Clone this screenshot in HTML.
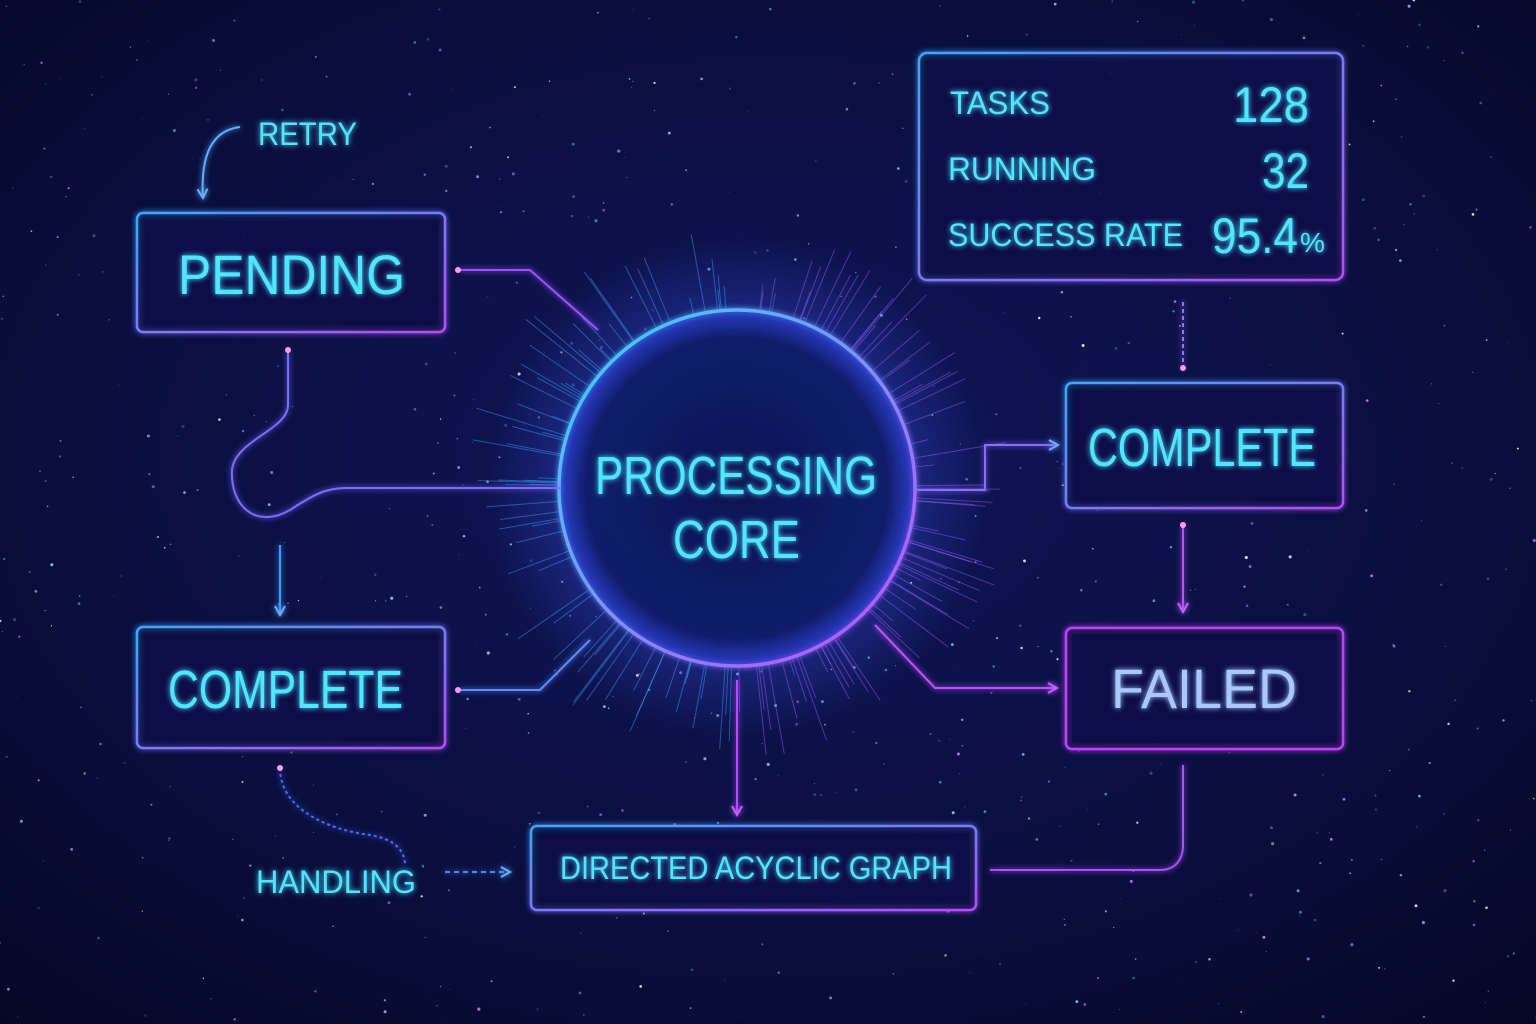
<!DOCTYPE html>
<html><head><meta charset="utf-8">
<style>
html,body{margin:0;padding:0;background:#070b2e;}
svg{display:block}
text{font-family:"Liberation Sans","DejaVu Sans",sans-serif;}
</style></head>
<body>
<svg id="s" width="1536" height="1024" viewBox="0 0 1536 1024">
<defs>
<radialGradient id="bg" cx="50%" cy="45%" r="75%">
<stop offset="0" stop-color="#10165a"/><stop offset="0.6" stop-color="#0a0e3e"/><stop offset="1" stop-color="#050726"/>
</radialGradient>
<radialGradient id="core" cx="50%" cy="50%" r="50%">
<stop offset="0" stop-color="#0f1652" stop-opacity="0.95"/><stop offset="0.85" stop-color="#121c6a" stop-opacity="0.9"/><stop offset="1" stop-color="#2a40d0" stop-opacity="0.7"/>
</radialGradient>
<radialGradient id="halo" cx="50%" cy="50%" r="50%">
<stop offset="0.6" stop-color="#3a5cff" stop-opacity="0.35"/><stop offset="1" stop-color="#3a5cff" stop-opacity="0"/>
</radialGradient>
<linearGradient id="ring" x1="0" y1="0" x2="1" y2="1">
<stop offset="0" stop-color="#38d6ff"/><stop offset="1" stop-color="#c04dff"/>
</linearGradient>
<linearGradient id="boxg" x1="0" y1="0" x2="1" y2="1">
<stop offset="0" stop-color="#3aa8ff"/><stop offset="1" stop-color="#b44dff"/>
</linearGradient>
<filter id="glow" x="-30%" y="-30%" width="160%" height="160%"><feGaussianBlur stdDeviation="3" result="b"/><feMerge><feMergeNode in="b"/><feMergeNode in="SourceGraphic"/></feMerge></filter>
<marker id="ar" viewBox="0 0 12 12" refX="10" refY="6" markerWidth="12" markerHeight="12" orient="auto" markerUnits="userSpaceOnUse"><path d="M1,1 L10,6 L1,11" fill="none" stroke="#6aaeff" stroke-width="2"/></marker>
<marker id="arp" viewBox="0 0 12 12" refX="10" refY="6" markerWidth="12" markerHeight="12" orient="auto" markerUnits="userSpaceOnUse"><path d="M1,1 L10,6 L1,11" fill="none" stroke="#c060ff" stroke-width="2"/></marker>
</defs>
<rect width="1536" height="1024" fill="url(#bg)"/>
<g id="stars"></g>

<circle cx="737" cy="488" r="250" fill="url(#halo)"/>
<g id="rays"></g>
<circle cx="737" cy="488" r="178" fill="url(#core)" stroke="url(#ring)" stroke-width="3.5" filter="url(#glow)"/>
<text x="595" y="494" font-size="54" textLength="282" lengthAdjust="spacingAndGlyphs" fill="#4fe6ff" filter="url(#glow)">PROCESSING</text>
<text x="673" y="558" font-size="54" textLength="127" lengthAdjust="spacingAndGlyphs" fill="#4fe6ff" filter="url(#glow)">CORE</text>

<g fill="none" stroke-width="2" filter="url(#glow)">
<path d="M458,270 L530,270 L598,330" stroke="#a050ff"/>
<path d="M288,350 L288,405 C288,430 235,440 232,470 C230,505 255,530 290,510 C320,490 330,488 350,488 L560,488" stroke="#7a6cff"/>
<path d="M280,545 L280,615" stroke="#3a9cff" marker-end="url(#ar)"/>
<path d="M915,490 L985,490 L985,445 L1058,445" stroke="#8a6cff" marker-end="url(#ar)"/>
<path d="M1183,302 L1183,370" stroke="#9a6cff" stroke-dasharray="4 3"/>
<path d="M1183,525 L1183,612" stroke="#c050ff" marker-end="url(#arp)"/>
<path d="M875,625 L935,688 L1057,688" stroke="#c050ff" marker-end="url(#arp)"/>
<path d="M737,680 L737,815" stroke="#b050ff" marker-end="url(#arp)"/>
<path d="M458,690 L540,690 L590,640" stroke="#5a8cff"/>
<path d="M280,768 C280,810 330,830 370,835 C400,840 405,855 405,865" stroke="#4a6cff" stroke-dasharray="3 3"/>
<path d="M445,872 L510,872" stroke="#4a8cff" stroke-dasharray="5 4" marker-end="url(#ar)"/>
<path d="M990,870 L1160,870 C1175,870 1183,860 1183,845 L1183,765" stroke="#b050ff"/>
<path d="M240,127 C215,130 200,150 203,198" stroke="#5ab0ff" marker-end="url(#ar)"/>
</g>
<g fill="#ff9cf0"><circle cx="458" cy="270" r="3"/><circle cx="288" cy="350" r="3"/><circle cx="458" cy="690" r="3"/><circle cx="280" cy="768" r="3"/><circle cx="1183" cy="525" r="3"/><circle cx="1183" cy="368" r="3"/></g>

<g fill="#0c1248" fill-opacity="0.8" stroke="url(#boxg)" stroke-width="2.5" filter="url(#glow)">
<rect x="137" y="213" width="308" height="119" rx="6"/>
<rect x="137" y="627" width="308" height="121" rx="6"/>
<rect x="919" y="53" width="424" height="227" rx="8"/>
<rect x="1066" y="383" width="277" height="125" rx="6"/>
<rect x="1066" y="628" width="277" height="121" rx="6" stroke="#c040ff"/>
<rect x="531" y="826" width="445" height="84" rx="6"/>
</g>

<g fill="#4fe6ff" filter="url(#glow)">
<text x="178" y="294" font-size="56" textLength="227" lengthAdjust="spacingAndGlyphs">PENDING</text>
<text x="168" y="708" font-size="54" textLength="235" lengthAdjust="spacingAndGlyphs">COMPLETE</text>
<text x="1088" y="466" font-size="54" textLength="228" lengthAdjust="spacingAndGlyphs">COMPLETE</text>
<text x="1111" y="708" font-size="56" textLength="186" lengthAdjust="spacingAndGlyphs" fill="#a8c8ff">FAILED</text>
<text x="560" y="879" font-size="32" textLength="392" lengthAdjust="spacingAndGlyphs">DIRECTED ACYCLIC GRAPH</text>
<text x="258" y="145" font-size="32" textLength="99" lengthAdjust="spacingAndGlyphs">RETRY</text>
<text x="256" y="893" font-size="32" textLength="160" lengthAdjust="spacingAndGlyphs">HANDLING</text>
<text x="950" y="114" font-size="32" textLength="100" lengthAdjust="spacingAndGlyphs">TASKS</text>
<text x="1233" y="122" font-size="50" textLength="76" lengthAdjust="spacingAndGlyphs">128</text>
<text x="948" y="180" font-size="32" textLength="148" lengthAdjust="spacingAndGlyphs">RUNNING</text>
<text x="1262" y="188" font-size="50" textLength="47" lengthAdjust="spacingAndGlyphs">32</text>
<text x="948" y="246" font-size="32" textLength="235" lengthAdjust="spacingAndGlyphs">SUCCESS RATE</text>
<text x="1212" y="253" font-size="50" textLength="86" lengthAdjust="spacingAndGlyphs">95.4</text>
<text x="1300" y="252" font-size="28" textLength="25" lengthAdjust="spacingAndGlyphs">%</text>
</g>

<script>
var ns="http://www.w3.org/2000/svg";
var seed=7;function r(){seed=(seed*16807)%2147483647;return seed/2147483647;}
var sg=document.getElementById('stars');
for(var i=0;i<800;i++){var c=document.createElementNS(ns,'circle');
c.setAttribute('cx',(r()*1536).toFixed(1));c.setAttribute('cy',(r()*1024).toFixed(1));
c.setAttribute('r',(r()*1.3+0.3).toFixed(2));
var k=r();c.setAttribute('fill',k<0.5?'#8fd8ff':(k<0.8?'#c08cff':'#ffffff'));
c.setAttribute('opacity',(r()*0.7+0.2).toFixed(2));


sg.appendChild(c);}
var rg=document.getElementById('rays');
for(var j=0;j<140;j++){var a=r()*Math.PI*2,l1=180,l2=195+r()*80;
var ln=document.createElementNS(ns,'line');
ln.setAttribute('x1',737+Math.cos(a)*l1);ln.setAttribute('y1',488+Math.sin(a)*l1);
ln.setAttribute('x2',737+Math.cos(a)*l2);ln.setAttribute('y2',488+Math.sin(a)*l2);
ln.setAttribute('stroke',Math.cos(a)>0?'#a060ff':'#40a8ff');ln.setAttribute('stroke-width','1');ln.setAttribute('opacity','0.45');


rg.appendChild(ln);}
</script>
</svg>
</body></html>
